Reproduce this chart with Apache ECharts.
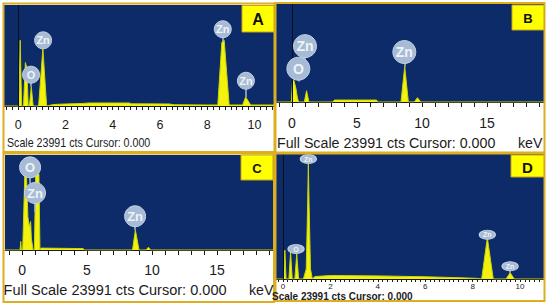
<!DOCTYPE html>
<html>
<head>
<meta charset="utf-8">
<script src="https://cdn.jsdelivr.net/npm/echarts@6/dist/echarts.min.js"></script>
<style>
html,body{margin:0;padding:0;background:#fff;}
#chart{width:550px;height:306px;}
</style>
</head>
<body>
<div id="chart"></div>
<script>
// ---------- DATA ----------
const panelLetters = ['A', 'B', 'C', 'D'];
const footerShort = 'Scale 23991 cts Cursor: 0.000';
const footerFull = 'Full Scale 23991 cts Cursor: 0.000';
const unitText = 'keV';

const tickLabelsA = [0, 2, 4, 6, 8, 10];
const tickLabelsB = [0, 5, 10, 15];
const tickLabelsC = [0, 5, 10, 15];
const tickLabelsD = [0, 2, 4, 6, 8, 10];

// spectra: [keV, % of full scale]
const spectrumA = [[-0.6,0],[0.02,0],[0.08,65],[0.14,0],[0.22,0],[0.3,43],[0.36,38],[0.42,0],
  [0.47,0],[0.55,19],[0.63,0],[0.86,0],[1.04,57],[1.2,0],[1.5,1.5],[2.0,2],[2.7,2.5],[3.0,3],
  [4.0,3],[4.7,3],[4.8,2.2],[6.4,2],[6.6,1.2],[8.0,1],[8.45,1],[8.62,63],[8.72,65],[8.93,1],
  [9.5,1],[9.63,9],[9.84,1],[10.83,1]];
const spectrumB = [[-1.23,0],[-0.05,0],[0.05,23],[0.15,22],[0.3,14],[0.42,4],[0.52,0],
  [0.95,0],[1.12,11.5],[1.3,0],[3.15,0],[3.25,2],[6.5,2],[6.6,0],
  [8.38,0],[8.67,36],[8.95,0],[9.4,0],[9.65,4.4],[9.9,0],[19.38,0]];
const spectrumC = [[-1.31,0],[-0.15,0],[-0.1,9],[-0.05,0],[0.05,0],[0.22,82],[0.34,80],[0.45,35],
  [0.55,25],[0.66,30],[0.72,12],[0.85,0],[0.95,0],[1.05,80],[1.3,80],[1.38,0],[1.45,2],
  [4.7,1.5],[4.8,0],[8.5,0],[8.72,21],[9.0,0],[9.55,0],[9.72,3],[9.9,0],[19.31,0]];
const spectrumD = [[-0.3,0],[0.02,0],[0.08,23],[0.13,0],[0.25,0],[0.32,21.6],[0.39,0],
  [0.5,0],[0.58,20],[0.66,0],[0.86,0],[0.98,8],[1.04,60],[1.07,94],[1.1,60],[1.16,8],[1.24,0],
  [1.35,2],[2,2.8],[4,2.5],[6,1.8],[7.5,1],[8.2,0.5],[8.38,0],[8.62,33],[8.87,0],
  [9.41,0],[9.58,5],[9.76,0],[11.01,0]];

// element labels: text, keV, label height (%), connector end (%)
const labelTextA = ['O', 'Zn', 'Zn', 'Zn'];
const labelKeVA = [0.54, 1.05, 8.66, 9.64];
const labelYA = [31, 65, 76, 25];
const labelEndA = [19, 57, 64, 9];

const labelTextB = ['Zn', 'O', 'Zn'];
const labelKeVB = [1.0, 0.49, 8.64];
const labelYB = [57, 34, 51];
const labelEndB = [40, 21, 36];

const labelTextC = ['O', 'Zn', 'Zn'];
const labelKeVC = [0.62, 1.0, 8.7];
const labelYC = [87, 60, 35.5];
const labelEndC = [70, 40, 21];

const labelTextD = ['O', 'Zn', 'Zn', 'Zn'];
const labelKeVD = [0.55, 1.07, 8.62, 9.58];
const labelYD = [24, 96, 35.4, 10.2];
const labelEndD = [20, 94, 33, 5];

// ---------- LAYOUT ----------
const BLUE = '#0c2b68';
const GOLD = '#dcae22';
const panels = [
  {grid:{left:4,top:5,width:270,height:101}, min:-0.606, max:10.83, labels:tickLabelsA, tickStep:0.25, tickLen:4, lblFont:12.5, lblMargin:12,
   spec:spectrumA, lt:labelTextA, lk:labelKeVA, ly:labelYA, le:labelEndA, sym:17, symFont:11, zero:true},
  {grid:{left:276,top:4,width:268,height:98}, min:-1.23, max:19.38, labels:tickLabelsB, tickStep:1, tickLen:5, lblFont:14, lblMargin:14,
   spec:spectrumB, lt:labelTextB, lk:labelKeVB, ly:labelYB, le:labelEndB, sym:23, symFont:14, zero:true},
  {grid:{left:5,top:155,width:268,height:95}, min:-1.31, max:19.31, labels:tickLabelsC, tickStep:1, tickLen:5, lblFont:14, lblMargin:13,
   spec:spectrumC, lt:labelTextC, lk:labelKeVC, ly:labelYC, le:labelEndC, sym:21, symFont:13, zero:false},
  {grid:{left:276,top:154,width:268,height:125}, min:-0.295, max:11.01, labels:tickLabelsD, tickStep:0.2, tickLen:3, lblFont:8, lblMargin:3,
   spec:spectrumD, lt:labelTextD, lk:labelKeVD, ly:labelYD, le:labelEndD, sym:[16,9], symFont:7, zero:true}
];

function tickPositions(min, max, step) {
  const out = [];
  const start = Math.ceil(min / step);
  const end = Math.floor(max / step);
  for (let k = start; k <= end; k++) out.push(+(k * step).toFixed(3));
  return out;
}

const grids = [], xAxes = [], yAxes = [], series = [];
panels.forEach((p, i) => {
  grids.push(Object.assign({show:true, backgroundColor:BLUE, borderWidth:0}, p.grid));
  xAxes.push({
    type:'value', gridIndex:i, min:p.min, max:p.max,
    splitLine:{show:false},
    axisLine:{show:true, onZero:false, lineStyle:{color:'#1a1a1a', width:1}},
    axisTick:{show:true, customValues:tickPositions(p.min, p.max, p.tickStep), length:p.tickLen, lineStyle:{color:'#1a1a1a', width:1}},
    axisLabel:{show:true, customValues:p.labels, color:'#1a1a1a', fontFamily:'Liberation Sans, Arial, sans-serif', fontSize:p.lblFont, margin:p.lblMargin}
  });
  yAxes.push({type:'value', gridIndex:i, min:0, max:100, show:false, splitLine:{show:false}});

  const mlData = [];
  if (p.zero) mlData.push({xAxis:0, lineStyle:{color:'#0a0f1c', width:1, type:'solid'}});
  p.lk.forEach((k, j) => {
    mlData.push([{coord:[k, p.ly[j]], lineStyle:{color:'#a9bdd6', width:1.5, type:'solid'}}, {coord:[k, p.le[j]]}]);
  });
  series.push({
    type:'line', xAxisIndex:i, yAxisIndex:i, data:p.spec, symbol:'none', z:2,
    lineStyle:{color:'#c9d40a', width:1}, areaStyle:{color:'#f2f20c', opacity:1},
    markLine:{silent:true, symbol:['none','none'], label:{show:false}, data:mlData}
  });
  series.push({
    type:'scatter', xAxisIndex:i, yAxisIndex:i, z:5, symbol:'circle', symbolSize:p.sym,
    itemStyle:{color:'#a7bbd4', borderColor:'#c3d1e3', borderWidth:1, opacity:1},
    label:{show:true, position:'inside', formatter:'{b}', color:'#eef3f9', fontWeight:'bold', fontSize:p.symFont, fontFamily:'Liberation Sans, Arial, sans-serif'},
    data:p.lt.map((t, j) => ({name:t, value:[p.lk[j], p.ly[j]]}))
  });
});

const FONT = 'Liberation Sans, Arial, sans-serif';
function txt(text, x, y, size, sx, weight) {
  return {type:'text', x:x, y:y, scaleX:sx, z:100,
    style:{text:text, x:0, y:0, font:(weight||'normal') + ' ' + size + 'px ' + FONT, fill:'#1c1c1c', verticalAlign:'middle', align:'left'}};
}
function box(x, y, w, h, letter, size) {
  return [
    {type:'rect', z:100, shape:{x:x, y:y, width:w, height:h}, style:{fill:'#ffff00', stroke:'#c9a21a', lineWidth:1}},
    {type:'text', z:101, style:{text:letter, x:x + w/2, y:y + h/2 + 1, font:'bold ' + size + 'px ' + FONT, fill:'#111', align:'center', verticalAlign:'middle'}}
  ];
}
function frame(x, y, w, h) {
  return {type:'rect', z:99, shape:{x:x, y:y, width:w, height:h}, style:{fill:'none', stroke:GOLD, lineWidth:2}};
}

const graphics = [
  frame(3.5, 3.5, 271, 148.5),
  frame(275.5, 3, 269, 149.5),
  frame(3.5, 153.5, 270.5, 148.5),
  frame(275.5, 153.5, 269, 147.5),
  txt(footerShort, 7, 143, 13, 0.82),
  txt(footerFull, 277, 143, 15, 0.95),
  txt(unitText, 518, 143, 15, 0.95),
  txt(footerFull, 3.5, 290, 15, 0.97),
  txt(unitText, 249, 290, 15, 0.95),
  txt(footerShort, 272, 296, 10, 1.0, 'bold')
].concat(
  box(242, 5.5, 32, 26.5, panelLetters[0], 16),
  box(512, 5, 32, 25, panelLetters[1], 13),
  box(241, 155, 32, 25, panelLetters[2], 13),
  box(511, 155, 33, 22, panelLetters[3], 15)
);

const chart = echarts.init(document.getElementById('chart'), null, {renderer:'svg', width:550, height:306});
chart.setOption({
  animation:false,
  backgroundColor:'#ffffff',
  grid:grids, xAxis:xAxes, yAxis:yAxes, series:series,
  graphic:{elements:graphics}
});
</script>
</body>
</html>
